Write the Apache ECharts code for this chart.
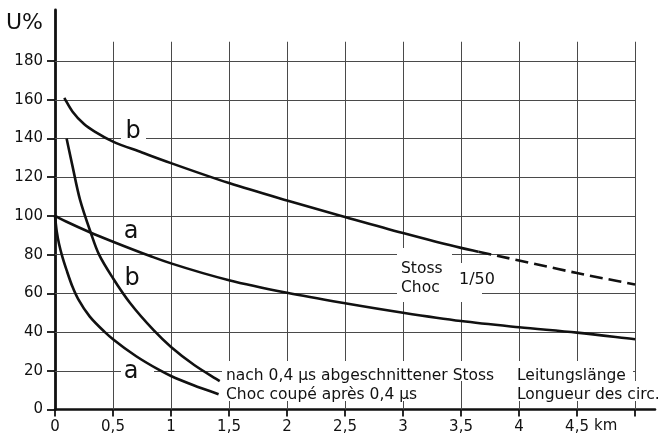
<!DOCTYPE html>
<html>
<head>
<meta charset="utf-8">
<script src="https://cdn.jsdelivr.net/npm/echarts@6/dist/echarts.min.js"></script>
<style>
  html, body { margin: 0; padding: 0; background: #fff; }
  #chart { width: 671px; height: 441px; }
</style>
</head>
<body>
<div id="chart"></div>
<script>
// Line length in km and the tick labels shown under the axis
const kmTicks = [0, 0.5, 1, 1.5, 2, 2.5, 3, 3.5, 4, 4.5, 5];
const kmLabels = ['0', '0,5', '1', '1,5', '2', '2,5', '3', '3,5', '4', '4,5', ''];

// Voltage in percent
const uTicks = [0, 20, 40, 60, 80, 100, 120, 140, 160, 180];
const uLabels = ['0', '20', '40', '60', '80', '100', '120', '140', '160', '180'];

// Full 1/50 impulse, curve b (solid part, then the extrapolated dashed part)
const stossB = [[0.08, 161], [0.15, 154], [0.25, 147.5], [0.35, 143.3], [0.5, 138.4],
  [0.75, 132.8], [1.0, 127.3], [1.5, 117], [2.0, 108], [2.5, 99.5], [3.0, 91.2],
  [3.5, 83.5], [3.65, 81.5]];
const stossBDashed = [[3.65, 81.5], [4.0, 77], [4.5, 70.5], [5.0, 64.6]];

// Full 1/50 impulse, curve a
const stossA = [[0, 100], [0.1, 97], [0.3, 91.6], [0.5, 86.7], [0.82, 79.3],
  [1.0, 75.5], [1.5, 66.8], [2.0, 60.3], [2.5, 54.9], [3.0, 50], [3.5, 45.7],
  [4.0, 42.5], [4.5, 39.7], [5.0, 36.3]];

// Impulse chopped after 0.4 µs, curve b
const chopB = [[0.1, 140], [0.15, 126], [0.216, 108.3], [0.307, 91.6], [0.38, 80],
  [0.5, 67.8], [0.647, 55], [0.85, 41], [1.0, 32.3], [1.2, 23], [1.42, 14.7]];

// Impulse chopped after 0.4 µs, curve a
const chopA = [[0, 100], [0.015, 92], [0.035, 85.5], [0.063, 79], [0.1, 72],
  [0.15, 63.5], [0.2, 57], [0.3, 48], [0.43, 40], [0.5, 36.3], [0.7, 27.5],
  [0.89, 20.7], [1.0, 17.3], [1.2, 12.4], [1.41, 7.9]];

// Extent of the ruled grid
const gridTopU = 190;
const gridRightKm = 5;

const FONT = '"DejaVu Sans", "Liberation Sans", sans-serif';
const INK = '#111';

const gridLines = [];
kmTicks.filter(v => v > 0).forEach(v => {
  gridLines.push([{ coord: [v, 0] }, { coord: [v, gridTopU] }]);
});
uTicks.filter(v => v > 0).forEach(v => {
  gridLines.push([{ coord: [0, v] }, { coord: [gridRightKm, v] }]);
});

// Centripetal Catmull-Rom spline through pixel points, as an SVG path string
function splinePath(p) {
  const dist = (a, b) => Math.hypot(b[0] - a[0], b[1] - a[1]);
  let d = 'M' + p[0][0] + ',' + p[0][1];
  for (let i = 0; i < p.length - 1; i++) {
    const p1 = p[i], p2 = p[i + 1];
    const p0 = i > 0 ? p[i - 1] : [2 * p1[0] - p2[0], 2 * p1[1] - p2[1]];
    const p3 = i < p.length - 2 ? p[i + 2] : [2 * p2[0] - p1[0], 2 * p2[1] - p1[1]];
    const l01 = Math.sqrt(dist(p0, p1)), l12 = Math.sqrt(dist(p1, p2)), l23 = Math.sqrt(dist(p2, p3));
    const l01s = l01 * l01, l12s = l12 * l12, l23s = l23 * l23;
    let c1 = p1, c2 = p2;
    if (l01 > 1e-9) {
      const a = 2 * l01s + 3 * l01 * l12 + l12s, n = 3 * l01 * (l01 + l12);
      c1 = [0, 1].map(k => (p1[k] * a - p0[k] * l12s + p2[k] * l01s) / n);
    }
    if (l23 > 1e-9) {
      const b = 2 * l23s + 3 * l23 * l12 + l12s, m = 3 * l23 * (l23 + l12);
      c2 = [0, 1].map(k => (p2[k] * b + p1[k] * l23s - p3[k] * l12s) / m);
    }
    d += 'C' + c1[0] + ',' + c1[1] + ',' + c2[0] + ',' + c2[1] + ',' + p2[0] + ',' + p2[1];
  }
  return d;
}

function curve(data, dashed) {
  return {
    type: 'custom',
    coordinateSystem: 'cartesian2d',
    data: data,
    encode: { x: 0, y: 1 },
    clip: false,
    silent: true,
    z: 30,
    renderItem: (params, api) => {
      if (params.dataIndexInside !== 0) return;
      const pts = data.map(v => api.coord(v));
      return {
        type: 'path',
        shape: { pathData: splinePath(pts) },
        style: {
          fill: 'none',
          stroke: INK,
          lineWidth: 2.6,
          lineDash: dashed ? [13, 6] : null,
          lineCap: 'butt'
        }
      };
    }
  };
}

function note(text, x, y, opts) {
  return {
    type: 'text',
    x: x,
    y: y,
    z: 20,
    silent: true,
    style: Object.assign({
      text: text,
      fill: INK,
      font: '15.5px ' + FONT,
      align: 'left',
      verticalAlign: 'middle'
    }, opts || {})
  };
}

// White patches that keep the grid clear behind the annotations
function patch(x, y, w, h) {
  return {
    type: 'rect',
    x: x, y: y, z: 15, silent: true,
    shape: { width: w, height: h },
    style: { fill: '#fff' }
  };
}

const chart = echarts.init(document.getElementById('chart'), null, { renderer: 'canvas' });
chart.setOption({
  backgroundColor: '#fff',
  animation: false,
  grid: { left: 55, right: 16, top: 10, bottom: 31.5 },
  xAxis: {
    type: 'value',
    min: 0,
    max: 5.172,
    splitLine: { show: false },
    axisLine: { show: true, onZero: false, lineStyle: { color: INK, width: 2.6 } },
    axisTick: { show: true, customValues: kmTicks, length: 7, lineStyle: { color: INK, width: 1.8 } },
    axisLabel: {
      customValues: kmTicks,
      margin: 10,
      color: INK,
      fontFamily: FONT,
      fontSize: 15,
      formatter: v => {
        const i = kmTicks.findIndex(t => Math.abs(t - v) < 1e-6);
        return i >= 0 ? kmLabels[i] : '';
      }
    }
  },
  yAxis: {
    type: 'value',
    min: 0,
    max: 206.4,
    splitLine: { show: false },
    axisLine: { show: true, onZero: false, lineStyle: { color: INK, width: 2.8 } },
    axisTick: { show: true, customValues: uTicks, length: 8, lineStyle: { color: INK, width: 1.8 } },
    axisLabel: {
      customValues: uTicks,
      margin: 12,
      color: INK,
      fontFamily: FONT,
      fontSize: 15,
      formatter: v => {
        const i = uTicks.findIndex(t => Math.abs(t - v) < 1e-6);
        return i >= 0 ? uLabels[i] : '';
      }
    }
  },
  series: [
    {
      type: 'line',
      data: [],
      z: 1,
      silent: true,
      markLine: {
        silent: true,
        z: 1,
        symbol: 'none',
        label: { show: false },
        lineStyle: { color: '#4a4a4a', width: 1, type: 'solid' },
        emphasis: { disabled: true },
        data: gridLines
      }
    },
    curve(stossB, false),
    curve(stossBDashed, true),
    curve(stossA, false),
    curve(chopB, false),
    curve(chopA, false)
  ],
  graphic: [
    { type: 'text', left: 6, top: 12, z: 20, silent: true,
      style: { text: 'U%', fill: INK, font: '22px ' + FONT } },
    { type: 'text', left: 594, top: 419, z: 20, silent: true,
      style: { text: 'km', fill: INK, font: '15px ' + FONT } },
    patch(121, 124, 25, 18),
    patch(121, 365, 33, 12),
    patch(397, 248, 55, 54),
    patch(452, 263, 30, 39),
    patch(222, 361, 296, 20),
    patch(222, 381, 186, 20),
    patch(513, 361, 120, 20),
    patch(513, 381, 155, 20),
    note('b', 133, 132, { font: '24px ' + FONT, align: 'center' }),
    note('a', 131, 232, { font: '24px ' + FONT, align: 'center' }),
    note('b', 132, 279, { font: '24px ' + FONT, align: 'center' }),
    note('a', 131, 372, { font: '24px ' + FONT, align: 'center' }),
    note('Stoss\nChoc', 401, 278, { lineHeight: 19 }),
    note('1/50', 459, 280, { font: '16px ' + FONT }),
    note('nach 0,4 µs abgeschnittener Stoss', 226, 376),
    note('Choc coupé après 0,4 µs', 226, 395),
    note('Leitungslänge', 517, 376),
    note('Longueur des circ.', 517, 395)
  ]
});
</script>
</body>
</html>
